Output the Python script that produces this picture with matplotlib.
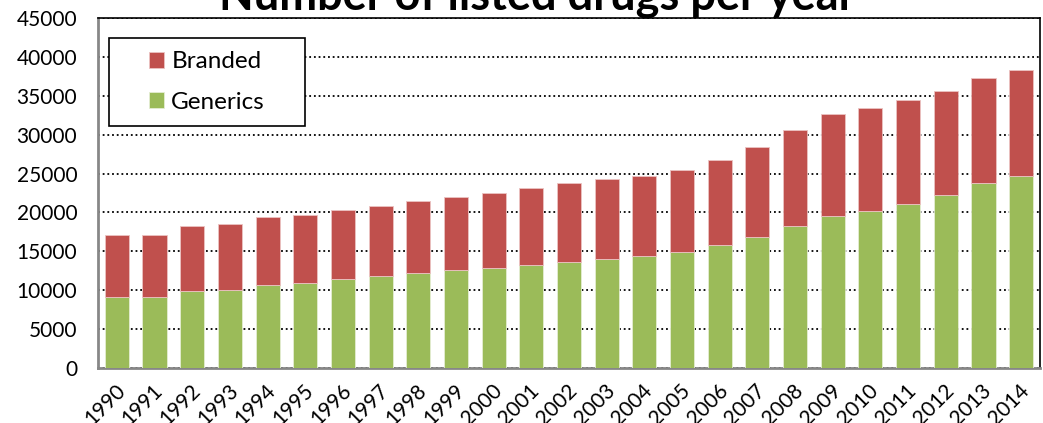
import numpy as np
import matplotlib.pyplot as plt
from matplotlib.patches import Rectangle
import matplotlib.transforms as mtransforms

plt.rcParams['font.family'] = ['Lato', 'DejaVu Sans']

# datos
years = [str(y) for y in range(1990, 2015)]
generics = [9100, 9150, 9950, 10000, 10700, 10900, 11450, 11800, 12250, 12550,
            12900, 13200, 13650, 14050, 14450, 14950, 15750, 16800, 18300, 19600,
            20150, 21050, 22250, 23750, 24700]
totals = [17050, 17150, 18250, 18450, 19350, 19700, 20350, 20850, 21450, 22000,
          22500, 23200, 23800, 24250, 24700, 25450, 26700, 28350, 30550, 32600,
          33400, 34400, 35650, 37250, 38350]
branded = [t - g for t, g in zip(totals, generics)]

red = '#C0504D'
green = '#9BBB59'

fig = plt.figure(figsize=(10.43, 4.23), dpi=100)
ax = fig.add_axes([98 / 1043, 55 / 423, 942 / 1043, 350 / 423])

x = np.arange(len(years))
ax.bar(x, generics, width=0.64, color=green, edgecolor='#E4EDD3', linewidth=0.6,
       label='Generics', zorder=3)
ax.bar(x, branded, width=0.64, bottom=generics, color=red, edgecolor='#EBC3C2',
       linewidth=0.6, label='Branded', zorder=3)

ax.set_xlim(-0.5, len(years) - 0.5)
ax.set_ylim(0, 45000)
ax.set_yticks(np.arange(0, 45001, 5000))
ax.set_xticks(x)
ax.set_xticklabels(years, rotation=45, ha='right', va='center', rotation_mode='anchor')
ax.tick_params(axis='both', length=0, labelsize=15, colors='black')
ax.tick_params(axis='y', pad=15)
ax.tick_params(axis='x', pad=14)
# mover etiquetas un poco a la derecha
off = mtransforms.ScaledTranslation(5 / 100, 0, fig.dpi_scale_trans)
for lbl in ax.get_xticklabels():
    lbl.set_transform(lbl.get_transform() + off)

ax.grid(axis='y', color='black', linestyle=(0, (1, 1.6)), linewidth=1.3, zorder=1)
ax.set_axisbelow(True)

for s in ['left', 'bottom']:
    ax.spines[s].set_color('#878787')
    ax.spines[s].set_linewidth(2)
for s in ['top', 'right']:
    ax.spines[s].set_color('black')
    ax.spines[s].set_linewidth(1.2)

# caja de la leyenda
rx, ry, rw, rh = 11 / 942, 242 / 350, 196 / 942, 88 / 350
ax.add_patch(Rectangle((rx, ry), rw, rh, transform=ax.transAxes, facecolor='white',
                       edgecolor='black', linewidth=1.2, zorder=4))
handles, labels = ax.get_legend_handles_labels()
leg = ax.legend(handles[::-1], labels[::-1], loc='center',
                bbox_to_anchor=(rx + rw / 2, ry + rh / 2), frameon=False, fontsize=17.5,
                handlelength=0.62, handleheight=0.62, handletextpad=0.3, labelspacing=0.8)
leg.set_zorder(5)

fig.text(0.515, 1 - 9 / 423, 'Number of listed drugs per year', ha='center', va='baseline',
         fontsize=32.5, fontweight='bold')

fig.savefig('out.png', dpi=100)
